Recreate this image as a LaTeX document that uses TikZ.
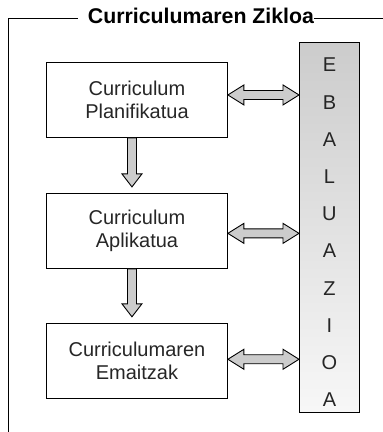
\documentclass[tikz,border=0pt]{standalone}
\usepackage{fontspec}
\setmainfont{Liberation Sans}
\usetikzlibrary{positioning,calc}

\begin{document}
\begin{tikzpicture}[x=1pt,y=1pt,node distance=55pt]
    \tikzstyle{box}=[draw,line width=0.9pt,minimum width=181pt,minimum height=75pt,align=center,text=black!85,font=\fontsize{20}{22.3}\selectfont]
    \tikzstyle{fat}=[draw,line width=0.9pt,fill=black!20,line join=miter]
    \useasboundingbox (0,0) rectangle (383,-432);

    % open frame with the title on its top edge
    \node[font=\bfseries\fontsize{21.3}{24}\selectfont,inner sep=0pt,anchor=base] (title) at (201,-23) {Curriculumaren Zikloa};
    \coordinate (topR) at (383,-18);
    \coordinate (botL) at (8,-432);
    \draw[line width=0.9pt] ([xshift=-10pt]title.west |- topR) -| (botL);
    \draw[line width=0.9pt] (title.east |- topR) -- (topR);

    \node[box,anchor=north west] (plan) at (46,-62) {Curriculum\\ Planifikatua};
    \node[box,below=55pt of plan] (apli) {Curriculum\\ Aplikatua};
    \node[box,below=54pt of apli] (emai) {Curriculumaren\\ Emaitzak};

    \node[draw,line width=0.9pt,top color=black!20,bottom color=black!3,minimum width=60pt,minimum height=370pt,anchor=north west] (bar) at (299,-42) {};
    \foreach \l [count=\i] in {E,B,A,L,U,A,Z,I,O,A}
        \node[text=black!85,font=\fontsize{20}{22}\selectfont] (ev\i) at ($(bar.north)+(0,-23-37.2*\i+37.2)$) {\l};

    % two-way arrows to the bar
    \foreach \n/\dy in {plan/5,apli/-2.5,emai/1.5}
        \draw[fat] ([yshift=\dy]\n.east) -- ++(16,10) -- ++(0,-5.5) -- ($(bar.west |- \n.east)+(-16,4.5+\dy)$) -- ++(0,5.5) -- ([yshift=\dy]bar.west |- \n.east) -- ++(-16,-10) -- ++(0,5.5) -- ($(\n.east)+(16,-4.5+\dy)$) -- ++(0,-5.5) -- cycle;

    % downward arrows between the boxes
    \foreach \a/\b in {plan/apli,apli/emai}
        \draw[fat] ($(\a.south)+(-9.5,0)$) -- ($(\b.north)+(-9.5,19)$) -- ++(-5.5,0) -- ($(\b.north)+(-5,6)$) -- ($(\b.north)+(5,19)$) -- ++(-5.5,0) -- ($(\a.south)+(-0.5,0)$) -- cycle;
\end{tikzpicture}
\end{document}
